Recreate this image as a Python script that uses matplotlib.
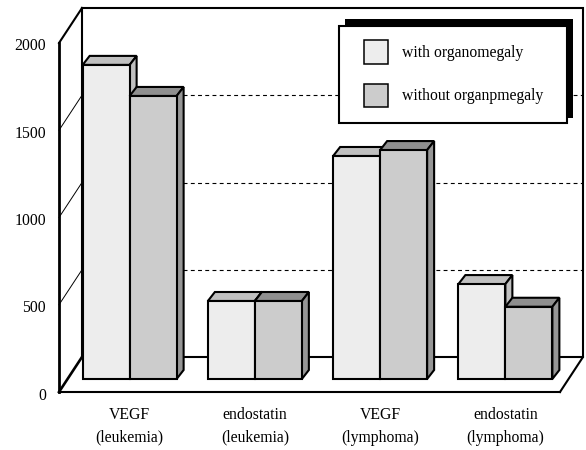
import matplotlib
matplotlib.use("Agg")
import matplotlib.pyplot as plt
from matplotlib.patches import Rectangle, Patch
from matplotlib.transforms import ScaledTranslation

categories = ["VEGF\n(leukemia)", "endostatin\n(leukemia)", "VEGF\n(lymphoma)", "endostatin\n(lymphoma)"]
series_names = ["with organomegaly", "without organpmegaly"]
with_organomegaly = [1800, 447, 1278, 544]
without_organomegaly = [1622, 447, 1312, 414]
y_ticks = [0, 500, 1000, 1500, 2000]

W, H = 586, 450
plt.rcParams["font.family"] = ["Liberation Serif", "DejaVu Serif"]
FS = 11.3
fig = plt.figure(figsize=(W / 100, H / 100), dpi=100, facecolor="white")
ax = fig.add_axes([59 / W, (H - 392) / H, 501 / W, 349 / H])
ax.set_xlim(0, 4)
ax.set_ylim(0, 2000)
ax.patch.set_alpha(0)

XU = 501 / 4        # px per category
YU = 349 / 2000     # px per value
wall_dx, wall_dy = 23 / XU, 35 / YU
floor_dx, floor_dy = 8 / XU, 13 / YU
bar_dx, bar_dy = 7 / XU, 9 / YU
bar_w = 47 / XU

LW = 1.5
k = dict(color="black", clip_on=False, solid_capstyle="projecting", solid_joinstyle="miter")

# walls and floor
ax.plot([0, wall_dx], [2000, 2000 + wall_dy], lw=LW, **k)
ax.plot([wall_dx, 4 + wall_dx, 4 + wall_dx, 4], [2000 + wall_dy, 2000 + wall_dy, wall_dy, 0], lw=LW, **k)
ax.plot([wall_dx, wall_dx], [2000 + wall_dy, wall_dy], lw=LW, **k)
ax.plot([0, wall_dx], [0, wall_dy], lw=LW + 0.4, **k)
ax.plot([wall_dx, 4 + wall_dx], [wall_dy, wall_dy], lw=LW, **k)
for v in y_ticks[1:-1]:
    ax.plot([0, wall_dx], [v, v + wall_dy], lw=0.7, color="black", clip_on=False)
    ax.plot([wall_dx, 4 + wall_dx], [v + wall_dy, v + wall_dy], lw=0.8, color="black",
            linestyle=(0, (3.5, 3)), clip_on=False, zorder=1)

# bars
styles = [("#ededed", "#c0c0c0", "#c0c0c0"), ("#cccccc", "#8f8f8f", "#969696")]
z = 3
for i in range(4):
    for j, vals in enumerate([with_organomegaly, without_organomegaly]):
        front, top, side = styles[j]
        x0 = i + 0.5 + floor_dx + (j - 1) * bar_w
        x1 = x0 + bar_w
        b = floor_dy
        t = floor_dy + vals[i]
        ax.bar(x0, vals[i], bar_w, bottom=b, align="edge", facecolor=front, edgecolor="black",
               linewidth=LW, clip_on=False, zorder=z + 1)
        ax.fill([x0, x0 + bar_dx, x1 + bar_dx, x1], [t, t + bar_dy, t + bar_dy, t],
                facecolor=top, edgecolor="black", linewidth=LW, clip_on=False, zorder=z)
        ax.fill([x1, x1 + bar_dx, x1 + bar_dx, x1], [b, b + bar_dy, t + bar_dy, t],
                facecolor=side, edgecolor="black", linewidth=LW, clip_on=False, zorder=z)
        z += 2

# axes
for s in ["top", "right"]:
    ax.spines[s].set_visible(False)
ax.spines["left"].set_linewidth(2)
ax.spines["bottom"].set_linewidth(LW)
ax.set_yticks(y_ticks)
ax.set_xticks([i + 0.5 + floor_dx for i in range(4)])
ax.set_xticklabels(categories, fontsize=FS, linespacing=1.6)
ax.tick_params(axis="both", length=0, labelsize=FS)
ax.tick_params(axis="y", pad=9.5)
ax.tick_params(axis="x", pad=10.5)

# small vertical nudge of the value labels, in pixels (positive = down)
label_nudge = [2, 1, 2, 2, 1]
for lab, n in zip(ax.get_yticklabels(), label_nudge):
    lab.set_transform(lab.get_transform() + ScaledTranslation(0, -n / 100, fig.dpi_scale_trans))

# legend box with offset shadow
def px_rect(x0, y0, x1, y1, **kw):
    r = Rectangle((x0 / W, 1 - y1 / H), (x1 - x0) / W, (y1 - y0) / H, transform=fig.transFigure,
                  clip_on=False, **kw)
    ax.add_patch(r)

px_rect(345, 19, 573, 118, facecolor="black", edgecolor="black", linewidth=0, zorder=50)
px_rect(339, 26, 567, 123, facecolor="white", edgecolor="black", linewidth=LW, zorder=51)
handles = [Patch(facecolor=styles[0][0], edgecolor="black", linewidth=1.1, label=series_names[0]),
           Patch(facecolor=styles[1][0], edgecolor="black", linewidth=1.1, label=series_names[1])]
fs_px = FS * 100 / 72
leg = ax.legend(handles=handles, loc="upper left", bbox_to_anchor=(364 / W, 1 - 40 / H),
                bbox_transform=fig.transFigure, frameon=False, fontsize=FS, borderpad=0,
                borderaxespad=0, handlelength=24 / fs_px, handleheight=1.93,
                labelspacing=20 / fs_px, handletextpad=14 / fs_px)
leg.set_zorder(60)

fig.savefig("out.png", dpi=100, facecolor="white")
